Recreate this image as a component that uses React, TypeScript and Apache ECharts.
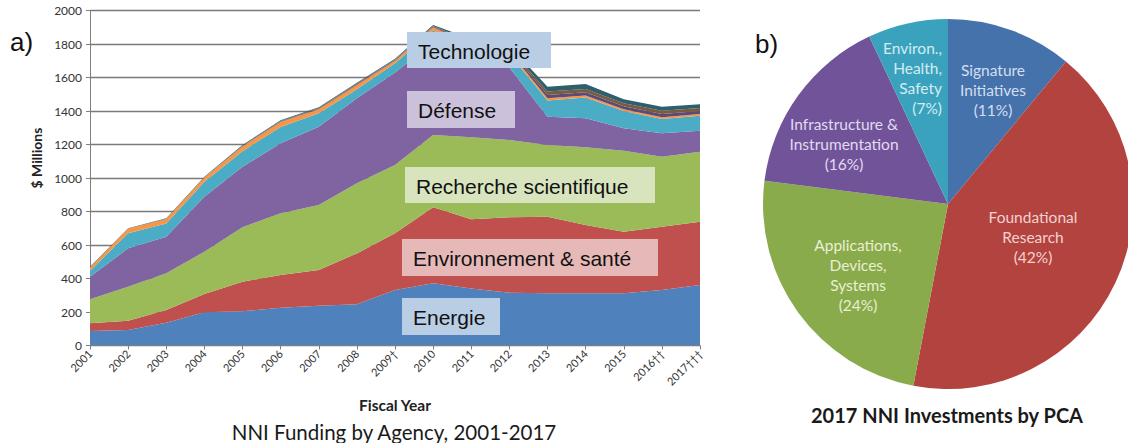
import React, { useEffect, useRef } from "react";
import * as echarts from "echarts";

// ---------- Data (left: NNI funding by agency, $ millions, stacked) ----------
const YEARS = ["2001", "2002", "2003", "2004", "2005", "2006", "2007", "2008", "2009\u2020", "2010", "2011", "2012", "2013", "2014", "2015", "2016\u2020\u2020", "2017\u2020\u2020\u2020"];
const ENERGIE = [87, 93, 136, 198, 204, 226, 238, 246, 331, 371, 341, 315, 312, 312, 312, 331, 361];
const ENV_SANTE = [46, 55, 76, 109, 177, 195, 213, 304, 339, 454, 412, 450, 457, 407, 367, 378, 378];
const RECHERCHE = [143, 203, 219, 253, 325, 368, 388, 418, 408, 432, 490, 462, 428, 464, 484, 418, 418];
const DEFENSE = [135, 229, 219, 328, 361, 418, 467, 508, 552, 553, 457, 433, 169, 173, 134, 140, 125];
const TECHNOLOGIE = [36, 90, 79, 90, 93, 98, 80, 54, 55, 70, 80, 80, 97, 124, 103, 85, 90];
const AUTRE_1 = [18, 27, 26, 25, 28, 30, 24, 25, 15, 20, 15, 15, 13, 12, 10, 10, 10];
const AUTRE_2 = [0, 0, 0, 0, 2, 3, 4, 4, 4, 4, 10, 10, 20, 20, 18, 20, 18];
const AUTRE_3 = [2, 1, 2, 2, 3, 3, 4, 5, 4, 4, 10, 10, 20, 20, 18, 20, 18];
const AUTRE_4 = [3, 2, 2, 3, 4, 4, 4, 5, 4, 5, 15, 15, 29, 29, 24, 24, 22];

const AREA_SERIES = [
  { name: "Energie", values: ENERGIE, color: "#4f81bd" },
  { name: "Environnement & santé", values: ENV_SANTE, color: "#c0504d" },
  { name: "Recherche scientifique", values: RECHERCHE, color: "#9bbb59" },
  { name: "Défense", values: DEFENSE, color: "#8064a2" },
  { name: "Technologie", values: TECHNOLOGIE, color: "#4bacc6" },
  { name: "Autre 1", values: AUTRE_1, color: "#f79646" },
  { name: "Autre 2", values: AUTRE_2, color: "#5b4a7a" },
  { name: "Autre 3", values: AUTRE_3, color: "#7b5b3b" },
  { name: "Autre 4", values: AUTRE_4, color: "#2f5f6f" },
];

// ---------- Data (right: 2017 NNI investments by PCA, %) ----------
const PCA_NAMES = ["Signature Initiatives", "Foundational Research", "Applications, Devices, Systems", "Infrastructure & Instrumentation", "Environ., Health, Safety"];
const PCA_LABELS = ["Signature\nInitiatives", "Foundational\nResearch", "Applications,\nDevices,\nSystems", "Infrastructure &\nInstrumentation", "Environ.,\nHealth,\nSafety"];
const PCA_VALUES = [11, 42, 24, 16, 7];
const PCA_COLORS = ["#4672ab", "#b3433f", "#8aab4c", "#71539a", "#3aa2bd"];
const PCA_TEXT_COLORS = ["#d3def0", "#f3d2d0", "#e8efd2", "#e2dbef", "#d3ecf3"];

// label anchors (layout only)
const PCA_LABEL_POS = [
  { x: 993, y: 90, align: "center" },
  { x: 1033, y: 237, align: "center" },
  { x: 858, y: 275, align: "center" },
  { x: 844, y: 144, align: "center" },
  { x: 942, y: 78, align: "right" },
];

const BOXES = [
  { text: "Technologie", x: 407, y: 32, w: 144, h: 36, fill: "#b9cde5" },
  { text: "Défense", x: 407, y: 91, w: 108, h: 37, fill: "#ccc1da" },
  { text: "Recherche scientifique", x: 405, y: 167, w: 250, h: 36, fill: "#d7e4bd" },
  { text: "Environnement & santé", x: 402, y: 239, w: 256, h: 37, fill: "#e6b9b8" },
  { text: "Energie", x: 402, y: 298, w: 98, h: 37, fill: "#b9cde5" },
];

function txt(text: string, x: number, y: number, font: string, fill: string, align = "center", vAlign = "middle", extra: any = {}) {
  return {
    type: "text",
    x,
    y,
    silent: true,
    z: 100,
    ...extra,
    style: { text, font, fill, align, verticalAlign: vAlign, textAlign: align, textVerticalAlign: vAlign },
  };
}

export default function App() {
  const ref = useRef<HTMLDivElement>(null);
  useEffect(() => {
    if (!ref.current) return;
    const chart = echarts.init(ref.current, null, { renderer: "svg" });

    const graphics: any[] = [];
    BOXES.forEach((b) => {
      graphics.push({ type: "rect", silent: true, z: 90, shape: { x: b.x, y: b.y, width: b.w, height: b.h }, style: { fill: b.fill } });
      graphics.push(txt(b.text, b.x + 11, b.y + b.h / 2 + 1, "21px 'Liberation Sans', Arial, sans-serif", "#111", "left"));
    });
    graphics.push(txt("a)", 10, 42, "26px 'Liberation Sans', Arial, sans-serif", "#111", "left"));
    graphics.push(txt("b)", 755, 44, "26px 'Liberation Sans', Arial, sans-serif", "#111", "left"));
    graphics.push(txt("$ Millions", 36, 158, "bold 14px Lato, sans-serif", "#222", "center", "middle", { rotation: Math.PI / 2 }));
    graphics.push(txt("Fiscal Year", 395, 405, "bold 15.5px Lato, sans-serif", "#222"));
    graphics.push(txt("NNI Funding by Agency, 2001-2017", 394, 432, "20.5px Lato, sans-serif", "#1a1a1a"));
    graphics.push(txt("2017 NNI Investments by PCA", 947, 415, "bold 20px Lato, sans-serif", "#1a1a1a"));

    const areaSeries = AREA_SERIES.map((s) => ({
      name: s.name,
      type: "line",
      stack: "total",
      data: s.values,
      symbol: "none",
      smooth: false,
      lineStyle: { width: 0, color: s.color },
      itemStyle: { color: s.color },
      areaStyle: { color: s.color, opacity: 1 },
      silent: true,
      z: 2,
    }));

    chart.setOption({
      animation: false,
      grid: { left: 90, right: 428, top: 10.5, bottom: 97.5, containLabel: false },
      xAxis: {
        type: "category",
        data: YEARS,
        boundaryGap: false,
        axisLine: { show: true, lineStyle: { color: "#7f7f7f", width: 1 } },
        axisTick: { show: true, length: 4, lineStyle: { color: "#7f7f7f" } },
        axisLabel: { rotate: 45, interval: 0, fontSize: 11, color: "#333", fontFamily: "Lato", margin: 6 },
        splitLine: { show: false },
        z: 10,
      },
      yAxis: {
        type: "value",
        min: 0,
        max: 2000,
        interval: 200,
        axisLine: { show: true, lineStyle: { color: "#7f7f7f", width: 1 } },
        axisTick: { show: true, length: 4, lineStyle: { color: "#7f7f7f" } },
        axisLabel: { fontSize: 12, color: "#333", fontFamily: "Lato", margin: 8, formatter: (v: number) => String(v) },
        splitLine: { show: true, lineStyle: { color: "#7a7a7a", width: 1.3 } },
      },
      series: [
        ...areaSeries,
        {
          type: "pie",
          center: [948, 204],
          radius: 185,
          startAngle: 90,
          clockwise: true,
          avoidLabelOverlap: false,
          silent: true,
          emphasis: { disabled: true },
          data: PCA_NAMES.map((n, i) => ({
            name: n,
            value: PCA_VALUES[i],
            itemStyle: { color: PCA_COLORS[i] },
            label: { color: PCA_TEXT_COLORS[i] },
          })),
          label: {
            show: true,
            position: "inside",
            fontFamily: "Lato",
            fontSize: 15.5,
            lineHeight: 20,
            formatter: (p: any) => PCA_LABELS[p.dataIndex] + "\n(" + Math.round(p.percent) + "%)",
          },
          labelLine: { show: false },
          labelLayout: (p: any) => {
            const pos = PCA_LABEL_POS[p.dataIndex];
            return { x: pos.x, y: pos.y, align: pos.align, verticalAlign: "middle" };
          },
        },
      ],
      graphic: graphics,
    });

    return () => chart.dispose();
  }, []);

  return <div ref={ref} style={{ position: "fixed", left: 0, top: 0, width: 1128, height: 443, background: "#fff" }} />;
}
